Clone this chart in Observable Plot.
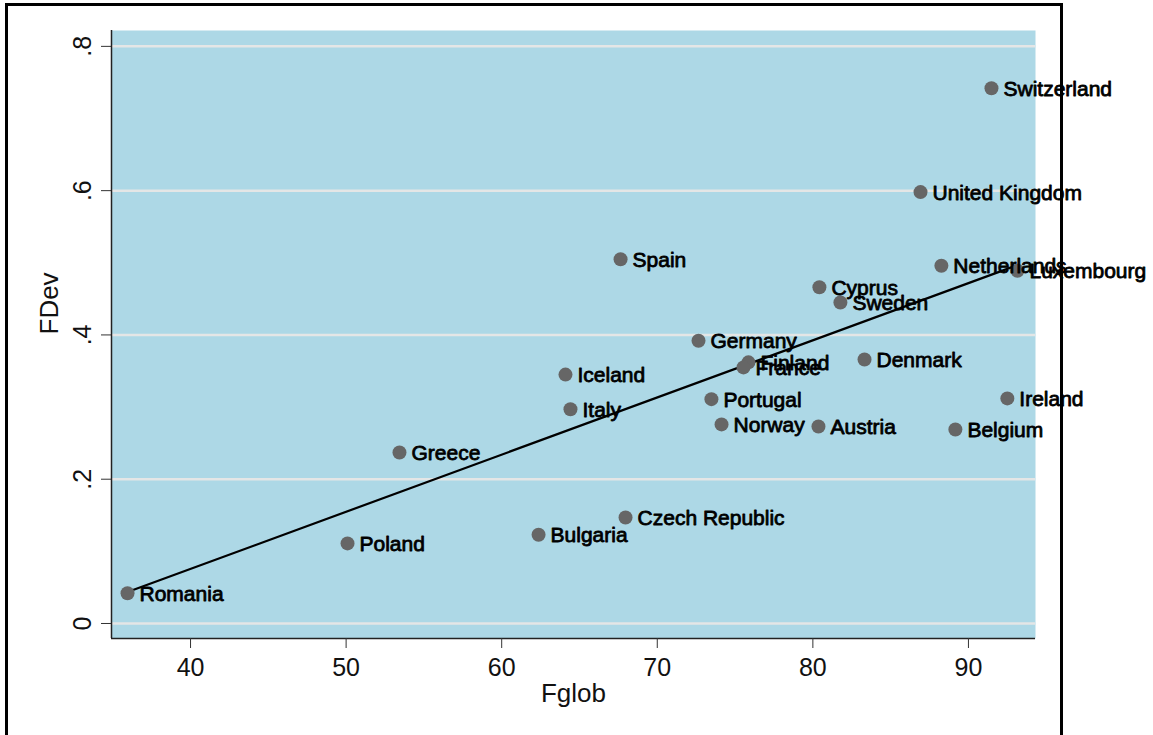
<!DOCTYPE html>
<html>
<head>
<meta charset="utf-8">
<script src="https://cdn.jsdelivr.net/npm/d3@7"></script>
<script src="https://cdn.jsdelivr.net/npm/@observablehq/plot@0.6"></script>
<style>
  html, body { margin: 0; padding: 0; background: #fff; }
  #wrap { position: relative; width: 1153px; height: 735px; overflow: hidden; }
  #border { position: absolute; left: 5px; top: 3px; width: 1052px; height: 800px;
            border: 3px solid #000; pointer-events: none; }
  svg { overflow: visible; }
</style>
</head>
<body>
<div id="wrap"><div id="chart"></div><div id="border"></div></div>
<script>
const countries = ["Switzerland","United Kingdom","Spain","Netherlands","Luxembourg","Cyprus","Sweden","Germany","Finland","France","Denmark","Iceland","Ireland","Portugal","Italy","Norway","Austria","Belgium","Greece","Czech Republic","Bulgaria","Poland","Romania"];
const fglob = [91.48,86.92,67.64,88.26,93.15,80.42,81.77,72.65,75.86,75.54,83.32,64.10,92.50,73.48,64.42,74.13,80.36,89.16,53.43,67.96,62.37,50.09,35.95];
const fdev  = [0.742,0.598,0.505,0.496,0.489,0.466,0.445,0.392,0.362,0.355,0.366,0.345,0.312,0.311,0.297,0.276,0.273,0.269,0.237,0.147,0.123,0.111,0.042];
const xTicks = [40,50,60,70,80,90];
const yTicks = [0,0.2,0.4,0.6,0.8];
const yTickLabels = ["0",".2",".4",".6",".8"];
const xDomain = [34.92, 94.31];
const yDomain = [-0.0208, 0.822];

const data = countries.map((c,i) => ({country: c, Fglob: fglob[i], FDev: fdev[i]}));
const font = "'Liberation Sans', Arial, sans-serif";

const chart = Plot.plot({
  width: 1153, height: 735,
  marginLeft: 111, marginRight: 118, marginTop: 30, marginBottom: 97,
  style: {fontFamily: font, background: "transparent", overflow: "visible"},
  x: {domain: xDomain},
  y: {domain: yDomain},
  marks: [
    Plot.frame({fill: "#ADD8E6", stroke: null}),
    Plot.gridY(yTicks, {stroke: "#e4e6e6", strokeOpacity: 1, strokeWidth: 2.5}),
    Plot.ruleX([xDomain[0]], {stroke: "#222", strokeWidth: 1.5}),
    Plot.ruleY([yDomain[0]], {stroke: "#222", strokeWidth: 1.5}),
    Plot.axisX(xTicks, {tickSize: 10, tickPadding: 10, fontSize: 25, stroke: "#333", label: null, fill: "#111"}),
    Plot.axisY(yTicks, {tickSize: 10, tickPadding: 11, fontSize: 25, stroke: "#333", label: null, fill: "#111",
      tickRotate: -90, textAnchor: "middle", lineAnchor: "bottom",
      tickFormat: d => yTickLabels[yTicks.indexOf(d)]}),
    Plot.text(["Fglob"], {frameAnchor: "bottom", dy: 45, fontSize: 26, fill: "#111", lineAnchor: "top"}),
    Plot.text(["FDev"], {frameAnchor: "left", dx: -54, rotate: -90, fontSize: 26, fill: "#111", lineAnchor: "bottom"}),
    Plot.linearRegressionY(data, {x: "Fglob", y: "FDev", ci: 0, stroke: "#000", strokeWidth: 2.2}),
    Plot.dot(data, {x: "Fglob", y: "FDev", r: 7, fill: "#666", stroke: null}),
    Plot.text(data, {x: "Fglob", y: "FDev", text: "country", dx: 12, dy: 1, textAnchor: "start",
      fontSize: 21, fill: "#000", stroke: "#000", strokeWidth: 0.8})
  ]
});
document.getElementById("chart").appendChild(chart);
</script>
</body>
</html>
